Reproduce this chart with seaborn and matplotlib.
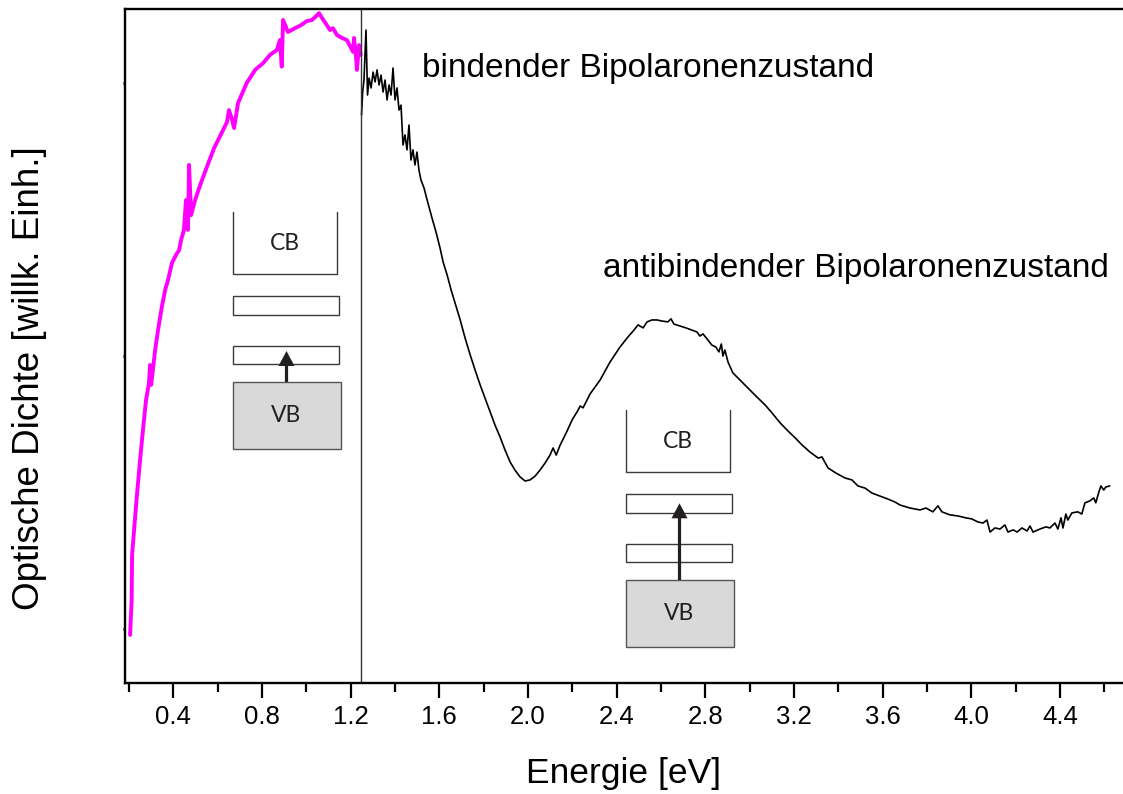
import numpy as np
import pandas as pd
import matplotlib
matplotlib.use("Agg")
import matplotlib.pyplot as plt
import matplotlib.transforms as mtransforms
from matplotlib.patches import Rectangle, FancyArrow
from matplotlib.lines import Line2D
import seaborn as sns

# ---------------- data ----------------
ir_energy = [0.205, 0.212, 0.214, 0.223, 0.234, 0.250, 0.263, 0.277, 0.290, 0.295,
             0.300, 0.318, 0.331, 0.348, 0.363, 0.376, 0.394, 0.412, 0.426, 0.435,
             0.448, 0.457, 0.466, 0.471, 0.480, 0.498, 0.521, 0.551, 0.584, 0.618,
             0.642, 0.651, 0.663, 0.674, 0.692, 0.731, 0.769, 0.805, 0.836, 0.867,
             0.881, 0.889, 0.895, 0.917, 0.949, 0.976, 1.002, 1.026, 1.044, 1.057,
             1.071, 1.089, 1.107, 1.120, 1.138, 1.161, 1.182, 1.197, 1.211, 1.215,
             1.224, 1.228, 1.238, 1.245]
ir_density = [-0.022, 0.106, 0.271, 0.363, 0.473, 0.619, 0.729, 0.839, 0.901, 0.967,
              0.894, 1.022, 1.095, 1.179, 1.242, 1.278, 1.341, 1.370, 1.388, 1.425,
              1.462, 1.571, 1.462, 1.700, 1.516, 1.571, 1.626, 1.692, 1.762, 1.817,
              1.857, 1.901, 1.872, 1.835, 1.927, 2.000, 2.048, 2.073, 2.103, 2.121,
              2.158, 2.060, 2.231, 2.187, 2.201, 2.212, 2.227, 2.231, 2.245, 2.256,
              2.238, 2.216, 2.194, 2.201, 2.176, 2.165, 2.158, 2.136, 2.114, 2.165,
              2.099, 2.048, 2.139, 2.103]

vis_energy = [1.249, 1.254, 1.260, 1.269, 1.276, 1.283, 1.292, 1.301, 1.310, 1.319,
              1.328, 1.337, 1.346, 1.355, 1.364, 1.373, 1.382, 1.391, 1.400, 1.409,
              1.418, 1.427, 1.436, 1.445, 1.454, 1.463, 1.472, 1.481, 1.490, 1.499,
              1.508, 1.517, 1.531, 1.545, 1.567, 1.585, 1.603, 1.617, 1.635, 1.653,
              1.671, 1.694, 1.716, 1.739, 1.761, 1.784, 1.806, 1.829, 1.851, 1.874,
              1.896, 1.919, 1.941, 1.964, 1.987, 2.009, 2.032, 2.054, 2.077, 2.099,
              2.113, 2.127, 2.145, 2.172, 2.199, 2.226, 2.235, 2.248, 2.280, 2.325,
              2.370, 2.415, 2.451, 2.478, 2.496, 2.519, 2.537, 2.559, 2.582, 2.604,
              2.631, 2.645, 2.658, 2.685, 2.712, 2.739, 2.762, 2.775, 2.789, 2.811,
              2.829, 2.847, 2.861, 2.872, 2.879, 2.888, 2.902, 2.924, 2.956, 2.992,
              3.032, 3.069, 3.101, 3.137, 3.173, 3.205, 3.236, 3.272, 3.309, 3.326,
              3.353, 3.389, 3.430, 3.461, 3.488, 3.520, 3.551, 3.587, 3.623, 3.655,
              3.678, 3.723, 3.768, 3.795, 3.826, 3.849, 3.867, 3.903, 3.939, 3.975,
              4.002, 4.029, 4.052, 4.070, 4.084, 4.106, 4.129, 4.151, 4.165, 4.188,
              4.206, 4.228, 4.251, 4.264, 4.278, 4.309, 4.336, 4.354, 4.377, 4.390,
              4.404, 4.413, 4.426, 4.435, 4.453, 4.480, 4.498, 4.512, 4.534, 4.552,
              4.561, 4.575, 4.584, 4.597, 4.606, 4.624]
vis_density = [1.883, 1.967, 2.011, 2.194, 1.956, 2.018, 1.982, 2.040, 2.004, 2.048,
               1.993, 2.029, 1.967, 2.011, 1.938, 1.993, 1.956, 2.055, 1.938, 1.982,
               1.901, 1.919, 1.773, 1.810, 1.755, 1.846, 1.718, 1.755, 1.700, 1.747,
               1.681, 1.645, 1.615, 1.571, 1.505, 1.454, 1.396, 1.344, 1.297, 1.242,
               1.194, 1.132, 1.066, 1.004, 0.949, 0.894, 0.846, 0.795, 0.747, 0.703,
               0.656, 0.612, 0.582, 0.557, 0.542, 0.546, 0.560, 0.582, 0.608, 0.637,
               0.663, 0.637, 0.674, 0.718, 0.766, 0.802, 0.817, 0.810, 0.861, 0.912,
               0.978, 1.033, 1.070, 1.095, 1.114, 1.103, 1.125, 1.132, 1.132, 1.128,
               1.125, 1.136, 1.117, 1.110, 1.103, 1.095, 1.088, 1.073, 1.081, 1.059,
               1.040, 1.033, 1.015, 1.044, 1.000, 1.022, 0.978, 0.938, 0.912, 0.883,
               0.850, 0.821, 0.791, 0.755, 0.725, 0.700, 0.674, 0.648, 0.626, 0.630,
               0.590, 0.571, 0.553, 0.546, 0.524, 0.516, 0.498, 0.487, 0.476, 0.465,
               0.454, 0.443, 0.436, 0.443, 0.429, 0.451, 0.429, 0.418, 0.414, 0.407,
               0.403, 0.392, 0.388, 0.399, 0.355, 0.370, 0.366, 0.381, 0.355, 0.363,
               0.355, 0.370, 0.359, 0.377, 0.355, 0.366, 0.374, 0.370, 0.388, 0.366,
               0.407, 0.370, 0.421, 0.399, 0.425, 0.429, 0.421, 0.462, 0.469, 0.480,
               0.462, 0.502, 0.524, 0.509, 0.520, 0.524]

split_energy = 1.245
x_ticks = [0.4, 0.8, 1.2, 1.6, 2.0, 2.4, 2.8, 3.2, 3.6, 4.0, 4.4]
x_tick_labels = ["0.4", "0.8", "1.2", "1.6", "2.0", "2.4", "2.8", "3.2", "3.6", "4.0", "4.4"]
x_minor_ticks = [0.2, 0.6, 1.0, 1.4, 1.8, 2.2, 2.6, 3.0, 3.4, 3.8, 4.2, 4.6]
y_ticks = [0, 1, 2]
label_bind = "bindender Bipolaronenzustand"
label_anti = "antibindender Bipolaronenzustand"
x_title = "Energie [eV]"
y_title = "Optische Dichte [willk. Einh.]"
band_cb = "CB"
band_vb = "VB"

# ---------------- figure ----------------
sns.set_theme(style="white")
plt.rcParams['font.family'] = ['Liberation Sans', 'DejaVu Sans']
plt.rcParams['text.color'] = 'black'
plt.rcParams['xtick.color'] = 'black'
plt.rcParams['ytick.color'] = 'black'
plt.rcParams['axes.labelcolor'] = 'black'

W, H = 1123, 794
fig = plt.figure(figsize=(W / 100, H / 100), dpi=100)
fig.patch.set_facecolor("white")
ax = fig.add_axes([125 / W, 1 - 683 / H, (1126.6 - 125) / W, (683 - 8.5) / H])
ax.set_facecolor("white")

df_ir = pd.DataFrame({"E": ir_energy, "OD": ir_density})
df_vis = pd.DataFrame({"E": vis_energy, "OD": vis_density})
sns.lineplot(data=df_ir, x="E", y="OD", ax=ax, sort=False, estimator=None,
             color="#ff00ff", linewidth=2.8)
sns.lineplot(data=df_vis, x="E", y="OD", ax=ax, sort=False, estimator=None,
             color="black", linewidth=1.2)
ax.axvline(split_energy, color="#333333", linewidth=1.0)

ax.set_xlim(0.182, 4.70)
ax.set_ylim(-0.198, 2.273)
ax.set_xticks(x_ticks)
ax.set_xticklabels(x_tick_labels)
ax.set_xticks(x_minor_ticks, minor=True)
ax.set_yticks(y_ticks)
ax.set_yticklabels([])
ax.set_xlabel("")
ax.set_ylabel("")
for s in ax.spines.values():
    s.set_visible(True)
    s.set_color("black")
    s.set_linewidth(1.7)
ax.tick_params(axis="x", which="major", direction="out", length=10.8, width=1.6,
               color="black", labelcolor="black", labelsize=18.5, pad=5, bottom=True)
ax.tick_params(axis="x", which="minor", direction="out", length=6.5, width=1.6,
               color="black", bottom=True)
ax.tick_params(axis="y", which="major", direction="out", length=1.5, width=2,
               color="black", left=True)
ax.grid(False)

# pixel-coordinate transform (image pixels, y downward) for annotations
px = mtransforms.Affine2D().scale(1 / W, -1 / H).translate(0, 1) + fig.transFigure

fig.text(624, 773, x_title, transform=px, ha="center", va="center", fontsize=25.5,
         color="black")
fig.text(30, 378, y_title, transform=px, ha="center", va="center", rotation=90,
         fontsize=26.5, color="black")
fig.text(422, 76.7, label_bind, transform=px, ha="left", va="baseline", fontsize=24,
         color="black")
fig.text(603.3, 276.7, label_anti, transform=px, ha="left", va="baseline", fontsize=24,
         color="black")


def band_diagram(x0, y0, arrow_tip):
    edge = "#3a3a3a"
    # conduction band: open-top box
    fig.add_artist(Line2D([x0, x0, x0 + 104, x0 + 104], [y0, y0 + 61.5, y0 + 61.5, y0],
                          transform=px, color=edge, linewidth=1.0))
    fig.text(x0 + 52, y0 + 31.5, band_cb, transform=px, ha="center", va="center",
             fontsize=16.5, family=["Lato", "DejaVu Sans"], color="#231f20")
    # two bipolaron levels
    for top in (84, 133.5):
        fig.add_artist(Rectangle((x0, y0 + top), 105.5, 18.7, transform=px,
                                 facecolor="white", edgecolor=edge, linewidth=1.0))
    # valence band
    fig.add_artist(Rectangle((x0, y0 + 170), 107.5, 66.5, transform=px,
                             facecolor="#d9d9d9", edgecolor="#555555", linewidth=1.0))
    fig.text(x0 + 53.5, y0 + 204, band_vb, transform=px, ha="center", va="center",
             fontsize=16.5, family=["Lato", "DejaVu Sans"], color="#231f20")
    ax_x = x0 + 53.5
    fig.add_artist(FancyArrow(ax_x, y0 + 170, 0, arrow_tip - (y0 + 170), width=3.2,
                              head_width=16, head_length=15,
                              length_includes_head=True, transform=px,
                              facecolor="#231f20", edgecolor="none"))


band_diagram(233, 212, 351)
band_diagram(626, 410, 503.3)

fig.savefig("out.png", dpi=100, facecolor="white")
